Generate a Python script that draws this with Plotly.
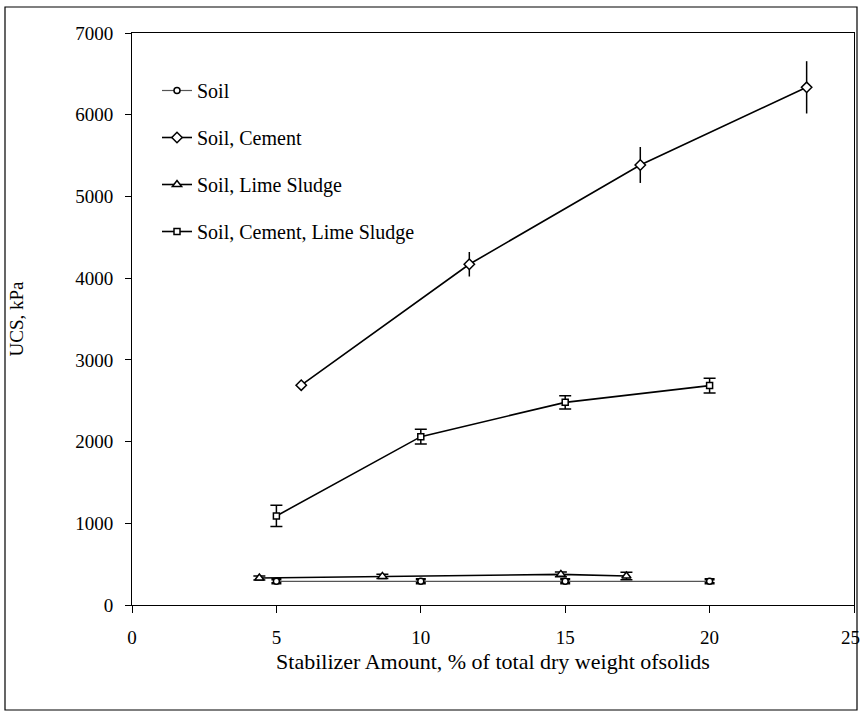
import plotly.graph_objects as go

# Data
soil_x = [5, 10, 15, 20]
soil_y = [290, 290, 290, 290]
soil_err = [25, 25, 25, 25]

cement_x = [5.86, 11.68, 17.6, 23.36]
cement_y = [2690, 4170, 5385, 6335]
cement_err = [0, 150, 220, 320]

lime_x = [4.41, 8.67, 14.85, 17.12]
lime_y = [330, 350, 375, 355]
lime_err = [25, 25, 30, 45]

clime_x = [5, 10, 15, 20]
clime_y = [1090, 2060, 2480, 2685]
clime_err = [130, 90, 80, 90]

x_ticks = [0, 5, 10, 15, 20, 25]
y_ticks = [0, 1000, 2000, 3000, 4000, 5000, 6000, 7000]

FONT = "Liberation Serif, Times New Roman, serif"

fig = go.Figure()

def add(name, x, y, err, symbol, size, lcolor, lwidth, capw, ethick, group):
    fig.add_trace(go.Scatter(
        x=x, y=y, name=name, mode="lines+markers",
        legendgroup=group,
        line=dict(color=lcolor, width=lwidth),
        marker=dict(symbol=symbol, size=size, color="white",
                    line=dict(color="black", width=1.5)),
        error_y=dict(type="data", array=err, visible=True,
                     color="black", thickness=ethick, width=capw),
    ))

add("Soil", soil_x, soil_y, soil_err, "circle", 6, "#555555", 1.2, 5, 2.5, "a")
add("Soil, Cement", cement_x, cement_y, cement_err, "diamond", 8, "black", 1.6, 0, 1.5, "b")
add("Soil, Lime Sludge", lime_x, lime_y, lime_err, "triangle-up", 8, "black", 1.6, 6, 1.5, "c")
add("Soil, Cement, Lime Sludge", clime_x, clime_y, clime_err, "square", 6, "black", 1.6, 6, 1.5, "d")

L, R, T, B = 132, 7, 33, 110
W, H = 861, 715
pw = W - L - R
ph = H - T - B

def px(xp):
    return (xp - L) / pw

def py(yp):
    return (H - B - yp) / ph

fig.update_layout(
    width=W, height=H,
    margin=dict(l=L, r=R, t=T, b=B, autoexpand=False),
    paper_bgcolor="white", plot_bgcolor="white",
    font=dict(family=FONT, size=19, color="black"),
    showlegend=True,
    legend=dict(x=px(157), y=py(71), xanchor="left", yanchor="top",
                bgcolor="rgba(0,0,0,0)", font=dict(family=FONT, size=20),
                tracegroupgap=18, itemwidth=30),
    xaxis=dict(range=[0, 25], tickvals=x_ticks, showgrid=False, zeroline=False,
               showline=True, linecolor="black", linewidth=1, mirror=True,
               ticks="outside", ticklen=7, tickcolor="black",
               ticklabelstandoff=8,
               tickfont=dict(family=FONT, size=19),
               title=dict(text="Stabilizer Amount, % of total dry weight ofsolids",
                          font=dict(family=FONT, size=22), standoff=6)),
    yaxis=dict(range=[0, 7000], tickvals=y_ticks, showgrid=False, zeroline=False,
               showline=True, linecolor="black", linewidth=1, mirror=True,
               ticks="outside", ticklen=6, tickcolor="black",
               ticklabelstandoff=8,
               tickfont=dict(family=FONT, size=19),
               title=dict(text="UCS, kPa", font=dict(family=FONT, size=19), standoff=46)),
    shapes=[dict(type="rect", xref="paper", yref="paper",
                 x0=px(5), x1=px(857), y0=py(710), y1=py(7),
                 line=dict(color="black", width=1.2), layer="below")],
    annotations=[dict(x=x_ticks[-1], xref="x", y=py(637), yref="paper",
                      text=str(x_ticks[-1]), showarrow=False,
                      xanchor="center", yanchor="middle", xshift=-4,
                      font=dict(family=FONT, size=19, color="black"))],
)

fig.write_html("out.html", config={"displayModeBar": False},
               post_script="document.body.style.margin='0';")
